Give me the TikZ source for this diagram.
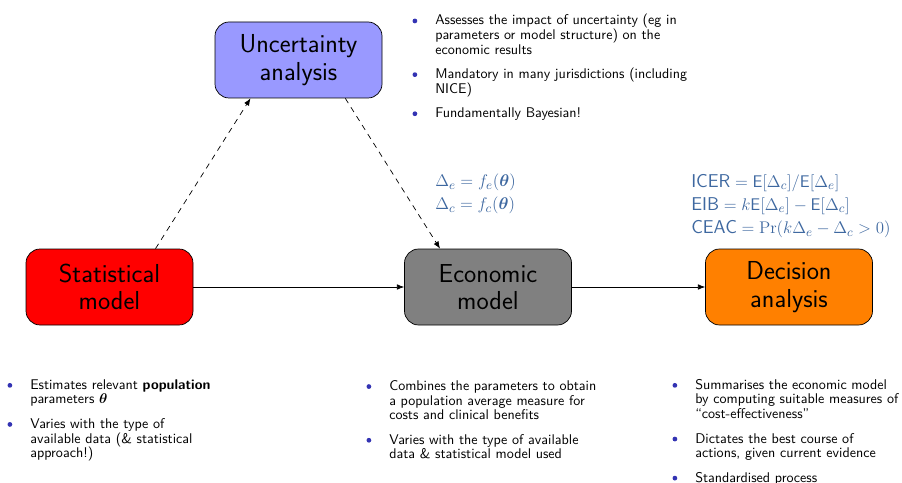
\documentclass[tikz,border=0pt]{standalone}
\usepackage{amsmath,amssymb}
\usepackage{xcolor}
\usepackage{enumitem}
\usepackage{tikz}
\usetikzlibrary{arrows.meta,positioning}
\renewcommand{\familydefault}{\sfdefault}
\definecolor{itemblue}{RGB}{51,51,179}
\definecolor{mathblue}{RGB}{62,104,160}
\newcommand{\itemdot}{\raisebox{0.25ex}{\tikz\fill[itemblue] (0,0) circle (1.7pt);}}
\setlist[itemize]{leftmargin=0.475cm, labelsep=0.45cm, itemsep=7pt, parsep=0pt, topsep=0pt, partopsep=0pt, label=\itemdot}

\begin{document}
\begin{tikzpicture}[
    model/.style={rectangle, rounded corners=10pt, draw=black, line width=0.5pt, minimum width=4.175cm, minimum height=1.9cm, align=center, font=\fontsize{18.5}{19.5}\selectfont},
    notes/.style={anchor=north west, inner sep=0pt, text width=6.8cm, font=\fontsize{10}{10.4}\selectfont},
    eqs/.style={anchor=north west, inner sep=0pt, align=left, text=mathblue, font=\fontsize{13.2}{16.4}\selectfont},
    link/.style={->, line width=0.5pt},
    >={Latex[length=1.8mm, width=1.4mm]}
]
    \useasboundingbox (0,0) rectangle (22.55,-12.075);

    % Model boxes
    \node[model, fill=red] (stat) at (2.7375,-7.175) {Statistical\\model};
    \node[model, fill=gray] (econ) at (12.2,-7.175) {Economic\\model};
    \node[model, fill=orange] (dec) at (19.725,-7.175) {Decision\\analysis};
    \node[model, fill=blue!40] (unc) at (7.4625,-1.5) {Uncertainty\\analysis};

    % Equations
    \node[eqs] (fe) at (10.875,-4.35) {$\Delta_e = f_e(\boldsymbol{\theta})$\\$\Delta_c = f_c(\boldsymbol{\theta})$};
    \node[eqs] (ce) at (17.275,-4.35) {$\text{ICER} = \mathsf{E}[\Delta_c]/\mathsf{E}[\Delta_e]$\\$\text{EIB} = k\mathsf{E}[\Delta_e] - \mathsf{E}[\Delta_c]$\\$\text{CEAC} = \Pr(k\Delta_e - \Delta_c > 0)$};

    % Notes
    \node[notes] (unote) at (10.4,-0.25) {\begin{itemize}
        \item Assesses the impact of uncertainty (eg in\\parameters or model structure) on the\\economic results
        \item Mandatory in many jurisdictions (including\\NICE)
        \item Fundamentally Bayesian!
    \end{itemize}};
    \node[notes] (snote) at (0.275,-9.36) {\begin{itemize}
        \item Estimates relevant \textbf{population}\\parameters $\boldsymbol{\theta}$
        \item Varies with the type of\\available data (\& statistical\\approach!)
    \end{itemize}};
    \node[notes] (enote) at (9.25,-9.39) {\begin{itemize}
        \item Combines the parameters to obtain\\a population average measure for\\costs and clinical benefits
        \item Varies with the type of available\\data \& statistical model used
    \end{itemize}};
    \node[notes] (dnote) at (16.9,-9.36) {\begin{itemize}
        \item Summarises the economic model\\by computing suitable measures of\\``cost-effectiveness''
        \item Dictates the best course of\\actions, given current evidence
        \item Standardised process
    \end{itemize}};

    % Arrows
    \draw[link] (stat) -- (econ);
    \draw[link] (econ) -- (dec);
    \draw[link, dash pattern=on 4pt off 3.5pt] ([xshift=1.15cm]stat.north) -- ([xshift=-1.2cm]unc.south);
    \draw[link, dash pattern=on 4pt off 3.5pt] ([xshift=1.17cm]unc.south) -- ([xshift=-1.2cm]econ.north);
\end{tikzpicture}
\end{document}
